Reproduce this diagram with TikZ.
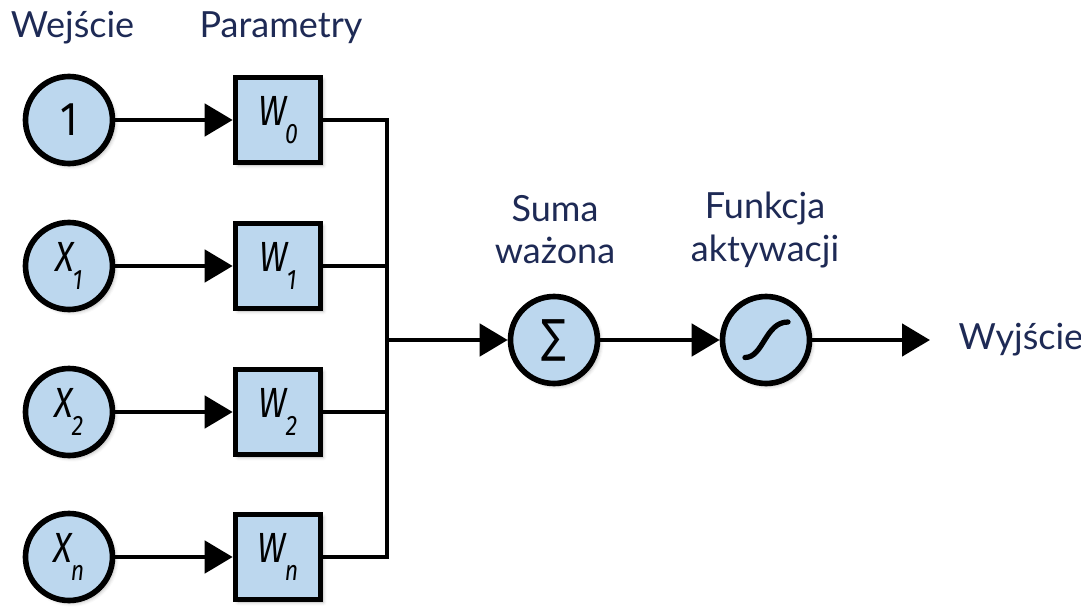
\documentclass[tikz,border=0pt]{standalone}
\usepackage{fontspec}
\setmainfont{Lato}
\newfontfamily\symfont{Fira Sans}
\newfontfamily\sigmafont{DejaVu Sans}
\usepackage{tikz}
\usetikzlibrary{arrows.meta,calc,positioning,shadows.blur}
\definecolor{nodefill}{HTML}{BCD7EE}
\definecolor{labelblue}{HTML}{1E2A55}
% letter with a low italic index, as in the weight boxes
\newcommand{\idx}[2]{\scalebox{0.82}[1]{{\symfont\itshape #1}\kern-1pt\raisebox{-10pt}{\symfont\itshape\fontsize{16}{16}\selectfont #2}}}

\begin{document}
\begin{tikzpicture}[
  wej/.style={circle,draw,line width=3.2pt,fill=nodefill,minimum size=1.74cm,inner sep=0pt,
    font=\fontsize{24}{24}\selectfont,blur shadow={shadow xshift=1.5pt,shadow yshift=-1.5pt,shadow opacity=30}},
  par/.style={rectangle,draw,line width=3.2pt,fill=nodefill,minimum size=1.7cm,inner sep=0pt,
    font=\fontsize{24}{24}\selectfont,blur shadow={shadow xshift=1.5pt,shadow yshift=-1.5pt,shadow opacity=30}},
  lbl/.style={text=labelblue,align=center,font=\fontsize{20.5}{24}\selectfont},
  lin/.style={line width=2.8pt},
  arr/.style={lin,-{Triangle[length=0.56cm,width=0.64cm]}}
]
\useasboundingbox (0,0) rectangle (21.62,12.2);

% inputs
\node[wej] (in0) at (1.38,9.8) {\symfont\fontsize{27}{27}\selectfont\scalebox{0.85}[1]{1}};
\node[wej] (in1) at (1.38,6.88) {\idx{X}{1}};
\node[wej] (in2) at (1.38,3.96) {\idx{X}{2}};
\node[wej] (inn) at (1.38,1.06) {\idx{X}{n}};

% weights
\node[par] (w0) at (5.56,9.8) {\idx{W}{0}};
\node[par] (w1) at (5.56,6.88) {\idx{W}{1}};
\node[par] (w2) at (5.56,3.96) {\idx{W}{2}};
\node[par] (wn) at (5.56,1.06) {\idx{W}{n}};

\draw[arr] (in0) -- (w0);
\draw[arr] (in1) -- (w1);
\draw[arr] (in2) -- (w2);
\draw[arr] (inn) -- (wn);

% collecting bus
\coordinate (bus) at (7.74,5.4);
\draw[lin] (w0.east) -| (bus);
\draw[lin] (w1.east) -| (bus);
\draw[lin] (w2.east) -| (bus);
\draw[lin] (wn.east) -| (bus);

% sum and activation
\node[wej] (sum) at (11.08,5.4) {\sigmafont\fontsize{26}{26}\selectfont\scalebox{0.8}[1]{∑}};
\node[wej] (act) at (15.32,5.4) {};
\draw[line width=3pt,line cap=round] ($(act)+(-0.42,-0.35)$) .. controls ($(act)+(-0.05,-0.35)$) and ($(act)+(-0.02,0.36)$) .. ($(act)+(0.44,0.36)$);

\draw[arr] (bus) -- (sum);
\draw[arr] (sum) -- (act);
\coordinate (out) at (18.6,5.4);
\draw[arr] (act) -- (out);

% captions
\node[lbl] (lwej) at (1.45,11.64) {Wejście};
\node[lbl] (lpar) at (5.62,11.64) {Parametry};
\node[lbl] (lsum) at (11.1,7.6) {Suma\\ważona};
\node[lbl] (lact) at (15.3,7.6) {Funkcja\\aktywacji};
\node[lbl,anchor=west] (lwyj) at (19.05,5.4) {Wyjście};
\end{tikzpicture}
\end{document}
